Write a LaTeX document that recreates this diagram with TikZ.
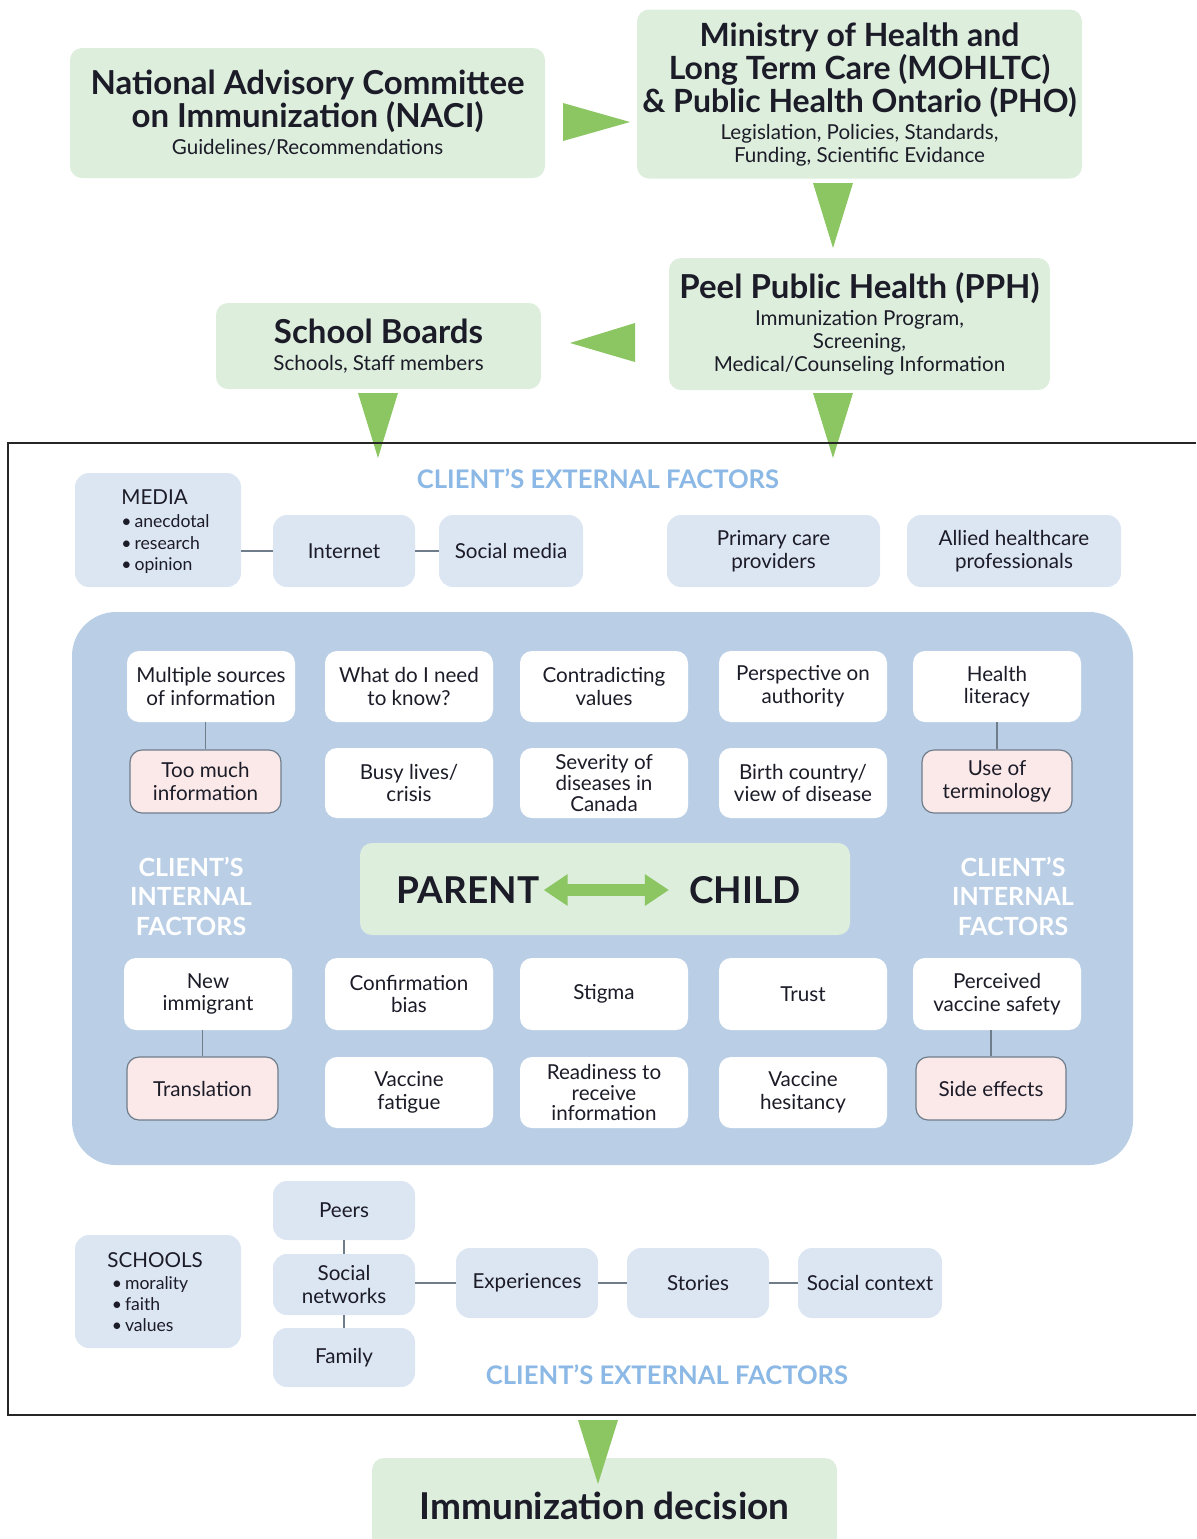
\documentclass[tikz,border=0pt]{standalone}
\usepackage{fontspec}
\setmainfont{Lato}
\usetikzlibrary{arrows.meta,calc}

\definecolor{boxgreen}{HTML}{DDEEDD}
\definecolor{wedgegreen}{HTML}{8CC663}
\definecolor{paleblue}{HTML}{DCE6F2}
\definecolor{panelblue}{HTML}{BACFE6}
\definecolor{pinkbox}{HTML}{FBE9EA}
\definecolor{edgegray}{HTML}{6F7D8A}
\definecolor{labelblue}{HTML}{8BB8E4}
\definecolor{ink}{HTML}{1C1C28}

\tikzset{
  sz/.style 2 args={minimum width=#1*0.5pt, minimum height=#2*0.5pt, inner sep=0pt},
  govbox/.style={fill=boxgreen, rounded corners=6pt, align=center, text=ink},
  titlefont/.style={font=\fontsize{16.5}{16.5}\selectfont\bfseries},
  extbox/.style={fill=paleblue, rounded corners=7pt, align=center, text=ink,
    font=\fontsize{10.3}{11.5}\selectfont},
  factor/.style={fill=white, rounded corners=6pt, align=center, text=ink,
    font=\fontsize{10.3}{11.3}\selectfont},
  flag/.style={fill=pinkbox, draw=edgegray, line width=0.6pt, rounded corners=6pt,
    align=center, text=ink, font=\fontsize{10.3}{11.3}\selectfont},
  wedge/.style={fill=wedgegreen},
  link/.style={draw=edgegray, line width=0.6pt},
  zonelabel/.style={text=labelblue, font=\fontsize{12.8}{14}\selectfont\bfseries},
  innerlabel/.style={text=white, align=center, font=\fontsize{12.5}{14.75}\selectfont\bfseries},
  listtext/.style={align=left, text=ink, inner sep=0pt, anchor=north west},
}

\newcommand{\subline}[1]{{\fontsize{10.3}{11}\selectfont\mdseries #1}}

\begin{document}
\begin{tikzpicture}[x=0.5pt,y=-0.5pt]
\useasboundingbox (0,0) rectangle (1196,1539);

% ---- governing bodies ----
\node[govbox, sz={475}{130}, titlefont] (naci) at (307.5,113)
  {National Advisory Committee\\on Immunization (NACI)\\[-3pt]\subline{Guidelines/Recommendations}};
\node[govbox, sz={445}{169}, font=\fontsize{16}{16.5}\selectfont\bfseries] (mohltc) at (859.5,94)
  {Ministry of Health and\\Long Term Care (MOHLTC)\\\& Public Health Ontario (PHO)\\[-3pt]
   \subline{Legislation, Policies, Standards,}\\[-5pt]\subline{Funding, Scientific Evidance}};
\node[govbox, sz={381}{132}, titlefont] (pph) at (859.5,324)
  {Peel Public Health (PPH)\\[-3pt]\subline{Immunization Program,}\\[-5pt]\subline{Screening,}\\[-5pt]
   \subline{Medical/Counseling Information}};
\node[govbox, sz={325}{86}, titlefont] (sb) at (378.5,346)
  {School Boards\\[-3pt]\subline{Schools, Staff members}};

% ---- wedge arrows between the bodies ----
\fill[wedge] (563,103) -- (630,122) -- (563,141) -- cycle;
\fill[wedge] (813,183) -- (853,183) -- (833,248) -- cycle;
\fill[wedge] (635,323) -- (635,362) -- (570,343) -- cycle;
\fill[wedge] (358,393) -- (398,393) -- (378,458) -- cycle;
\fill[wedge] (813,393) -- (853,393) -- (833,458) -- cycle;

% ---- client frame ----
\draw[line width=1.1pt, black!85] (1196,443) -- (8,443) -- (8,1415) -- (1196,1415);

\node[zonelabel] (extlabtop) at (598,479) {CLIENT'S EXTERNAL FACTORS};

% ---- external factors (top) ----
\node[extbox, sz={166}{114}] (media) at (158,530) {};
\node[listtext, font=\fontsize{8.8}{10.8}\selectfont] (medialist) at (121,489)
  {\fontsize{10.3}{11}\selectfont MEDIA\\[1pt]
   \fontsize{8.8}{10.8}\selectfont\textbullet\,anecdotal\\\textbullet\,research\\\textbullet\,opinion};
\node[extbox, sz={142}{72}] (internet) at (344,551) {Internet};
\node[extbox, sz={144}{72}] (socmedia) at (511,551) {Social media};
\node[extbox, sz={213}{72}] (primary) at (773.5,551) {Primary care\\providers};
\node[extbox, sz={214}{72}] (allied) at (1014,551) {Allied healthcare\\professionals};
\draw[link] (media.east |- internet.west) -- (internet.west);
\draw[link] (internet.east) -- (socmedia.west);

% ---- internal factors panel ----
\node[fill=panelblue, rounded corners=22pt, sz={1061}{553}] (panel) at (602.5,888.5) {};

% row 1
\node[factor, sz={168}{71}] (f11) at (211,686.5) {Multiple sources\\of information};
\node[factor, sz={168}{71}] (f12) at (409,686.5) {What do I need\\to know?};
\node[factor, sz={168}{71}] (f13) at (604,686.5) {Contradicting\\values};
\node[factor, sz={168}{71}] (f14) at (803,686.5) {Perspective on\\authority};
\node[factor, sz={168}{71}] (f15) at (997,686.5) {Health\\literacy};
% row 2
\node[flag, sz={151}{63}] (f21) at (205.5,781.5) {Too much\\information};
\node[factor, sz={168}{70}] (f22) at (409,783) {Busy lives/\\crisis};
\node[factor, sz={168}{70}, font=\fontsize{10.3}{10.3}\selectfont] (f23) at (604,783) {Severity of\\diseases in\\Canada};
\node[factor, sz={168}{70}] (f24) at (803,783) {Birth country/\\view of disease};
\node[flag, sz={150}{63}] (f25) at (997,781.5) {Use of\\terminology};
\draw[link] (f21.north) -- (f21.north |- f11.south);
\draw[link] (f25.north) -- (f25.north |- f15.south);

% parent / child
\node[innerlabel] (inleft) at (191,896) {CLIENT'S\\INTERNAL\\FACTORS};
\node[innerlabel] (inright) at (1013,896) {CLIENT'S\\INTERNAL\\FACTORS};
\node[fill=boxgreen, rounded corners=6pt, sz={490}{92}] (pc) at (605,889) {};
\node[text=ink, font=\fontsize{18.5}{22}\selectfont\bfseries, inner sep=0pt] (parent) at (468,890) {PARENT};
\node[text=ink, font=\fontsize{18.5}{22}\selectfont\bfseries, inner sep=0pt] (child) at (745,890) {CHILD};
\draw[wedgegreen, line width=6pt,
  {Triangle[length=12pt,width=15pt]}-{Triangle[length=12pt,width=15pt]}]
  ([xshift=2pt]parent.east) -- ([xshift=-10pt]child.west);

% row 3
\node[factor, sz={168}{72}] (f31) at (208,994) {New\\immigrant};
\node[factor, sz={168}{72}] (f32) at (409,994) {Confirmation\\bias};
\node[factor, sz={168}{72}] (f33) at (604,994) {Stigma};
\node[factor, sz={168}{72}] (f34) at (803,994) {Trust};
\node[factor, sz={168}{72}] (f35) at (997,994) {Perceived\\vaccine safety};
% row 4
\node[flag, sz={151}{63}] (f41) at (202.5,1088.5) {Translation};
\node[factor, sz={168}{71}] (f42) at (409,1092.5) {Vaccine\\fatigue};
\node[factor, sz={168}{71}, font=\fontsize{10.3}{10.3}\selectfont] (f43) at (604,1092.5) {Readiness to\\receive\\information};
\node[factor, sz={168}{71}] (f44) at (803,1092.5) {Vaccine\\hesitancy};
\node[flag, sz={150}{63}] (f45) at (991,1088.5) {Side effects};
\draw[link] (f41.north) -- (f41.north |- f31.south);
\draw[link] (f45.north) -- (f45.north |- f35.south);

% ---- external factors (bottom) ----
\node[extbox, sz={166}{113}] (schools) at (158,1291.5) {};
\node[listtext, font=\fontsize{8.8}{10.3}\selectfont] (schoollist) at (107,1252)
  {\fontsize{10.3}{11}\selectfont SCHOOLS\\[1pt]
   \fontsize{8.8}{10.3}\selectfont\ \textbullet\,morality\\\ \textbullet\,faith\\\ \textbullet\,values};
\node[extbox, sz={142}{59}] (peers) at (344,1210.5) {Peers};
\node[extbox, sz={142}{61}] (socnet) at (344,1284.5) {Social\\networks};
\node[extbox, sz={142}{59}] (family) at (344,1357.5) {Family};
\node[extbox, sz={142}{70}] (exper) at (527,1283) {Experiences};
\node[extbox, sz={142}{70}] (stories) at (698,1283) {Stories};
\node[extbox, sz={144}{70}] (context) at (870,1283) {Social context};
\draw[link] (peers.south) -- (socnet.north);
\draw[link] (socnet.south) -- (family.north);
\draw[link] (socnet.east |- exper.west) -- (exper.west);
\draw[link] (exper.east) -- (stories.west);
\draw[link] (stories.east) -- (context.west);

\node[zonelabel] (extlabbot) at (667,1375) {CLIENT'S EXTERNAL FACTORS};

% ---- outcome ----
\node[govbox, sz={465}{102}, font=\fontsize{18.5}{20}\selectfont\bfseries] (decision) at (604.5,1509)
  {\raisebox{3pt}{Immunization decision}};
\fill[wedge] (578,1420) -- (618,1420) -- (598,1484) -- cycle;

\end{tikzpicture}
\end{document}
